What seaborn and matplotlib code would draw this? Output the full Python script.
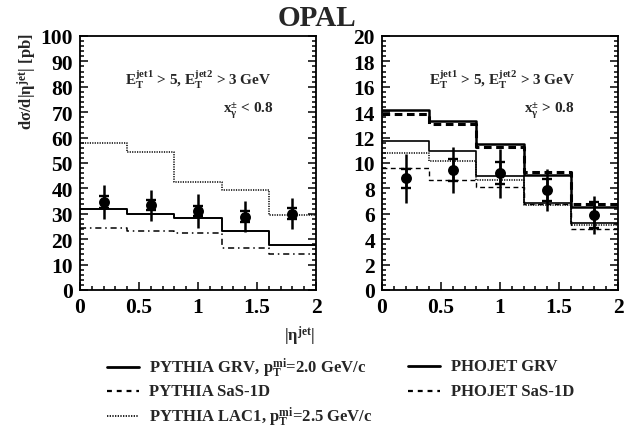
import numpy as np
import pandas as pd
import matplotlib
matplotlib.use("Agg")
import matplotlib.pyplot as plt
from matplotlib.lines import Line2D
from matplotlib.ticker import MultipleLocator, FixedLocator, FixedFormatter
import seaborn as sns

# ---------------- data ----------------
bin_edges = [0.0, 0.4, 0.8, 1.2, 1.6, 2.0]
eta_centers = [0.2, 0.6, 1.0, 1.4, 1.8]

# x_gamma < 0.8
low_data = [34.7, 33.4, 31.1, 28.8, 30.1]
low_stat = [2.3, 2.0, 1.8, 2.2, 2.2]
low_tot = [6.8, 6.1, 6.7, 6.1, 6.2]
low_pythia_grv = [32.0, 29.8, 28.4, 23.3, 17.7]
low_pythia_lac1 = [57.8, 54.4, 42.6, 39.3, 29.6]
low_pythia_sas = [24.3, 23.4, 22.3, 16.7, 14.0]

# x_gamma > 0.8
high_data = [8.81, 9.44, 9.18, 7.86, 5.91]
high_stat = [0.75, 0.85, 0.87, 0.85, 1.0]
high_tot = [1.93, 1.83, 1.95, 1.65, 1.5]
high_phojet_grv = [14.19, 13.27, 11.46, 9.07, 6.57]
high_phojet_sas = [13.85, 13.04, 11.25, 9.30, 6.76]
high_pythia_grv = [11.75, 10.96, 8.94, 6.83, 5.26]
high_pythia_lac1 = [10.75, 10.17, 8.65, 6.68, 5.08]
high_pythia_sas = [9.59, 8.65, 8.10, 6.75, 4.84]

x_tick_vals = [0, 0.5, 1, 1.5, 2]
x_tick_labels = ["0", "0.5", "1", "1.5", "2"]
low_y_ticks = [0, 10, 20, 30, 40, 50, 60, 70, 80, 90, 100]
high_y_ticks = [0, 2, 4, 6, 8, 10, 12, 14, 16, 18, 20]

legend_left = [
    ("PYTHIA GRV, $p_T^{mi}$=2.0 GeV/c", "-", 2.0),
    ("PYTHIA SaS-1D", (0, (2.2, 2.2)), 1.6),
    ("PYTHIA LAC1, $p_T^{mi}$=2.5 GeV/c", (0, (0.8, 0.8)), 1.2),
]
legend_right = [
    ("PHOJET GRV", "-", 2.0),
    ("PHOJET SaS-1D", (0, (2.2, 2.2)), 1.6),
]

# ---------------- style ----------------
sns.set_style("ticks")
plt.rcParams["font.family"] = ["Liberation Serif", "DejaVu Serif"]
plt.rcParams["font.weight"] = "bold"
plt.rcParams["mathtext.fontset"] = "custom"
plt.rcParams["mathtext.rm"] = "Liberation Serif:bold"
plt.rcParams["mathtext.it"] = "Liberation Serif:bold"
plt.rcParams["mathtext.bf"] = "Liberation Serif:bold"
plt.rcParams["mathtext.default"] = "rm"
plt.rcParams["axes.linewidth"] = 1.3

fig = plt.figure(figsize=(6.34, 4.31), dpi=100)
W, H = 634.0, 431.0
axL = fig.add_axes([80 / W, 1 - 291 / H, 236 / W, 254 / H])
axR = fig.add_axes([382 / W, 1 - 291 / H, 236 / W, 254 / H])


def step(ax, vals, ls, lw):
    df = pd.DataFrame({"eta": bin_edges, "val": list(vals) + [vals[-1]]})
    sns.lineplot(data=df, x="eta", y="val", ax=ax, drawstyle="steps-post",
                 estimator=None, sort=False, color="black", linestyle=ls,
                 linewidth=lw)


def points(ax, vals, stat, tot):
    ax.errorbar(eta_centers, vals, yerr=tot, fmt="none", ecolor="black",
                elinewidth=1.8, capsize=0, zorder=4)
    ax.errorbar(eta_centers, vals, yerr=stat, fmt="none", ecolor="black",
                elinewidth=1.8, capsize=3.4, capthick=1.7, zorder=4)
    df = pd.DataFrame({"eta": eta_centers, "val": vals})
    sns.scatterplot(data=df, x="eta", y="val", ax=ax, color="black", s=62,
                    edgecolor="black", linewidth=0, zorder=5)


# left panel
step(axL, low_pythia_lac1, (0, (0.8, 0.8)), 1.1)
step(axL, low_pythia_grv, "-", 1.4)
step(axL, low_pythia_sas, (0, (4, 2.5, 1, 2.5)), 1.1)
points(axL, low_data, low_stat, low_tot)

# right panel
step(axR, high_phojet_grv, "-", 1.8)
step(axR, high_phojet_sas, (0, (2.5, 1.5)), 2.2)
step(axR, high_pythia_grv, "-", 1.2)
step(axR, high_pythia_lac1, (0, (0.8, 0.8)), 1.1)
step(axR, high_pythia_sas, (0, (3.5, 2.5)), 1.0)
points(axR, high_data, high_stat, high_tot)

for ax, yt, ymax, minor in [(axL, low_y_ticks, 100, 2), (axR, high_y_ticks, 20, 0.4)]:
    ax.set_xlim(0, 2)
    ax.set_ylim(0, ymax)
    ax.xaxis.set_major_locator(FixedLocator(x_tick_vals))
    ax.xaxis.set_major_formatter(FixedFormatter(x_tick_labels))
    ax.xaxis.set_minor_locator(MultipleLocator(0.1))
    ax.yaxis.set_major_locator(FixedLocator(yt))
    ax.yaxis.set_major_formatter(FixedFormatter([str(v) for v in yt]))
    ax.yaxis.set_minor_locator(MultipleLocator(minor))
    ax.tick_params(which="both", direction="in", right=True, top=False,
                   width=1.1, labelsize=15.5, colors="black")
    ax.tick_params(which="major", length=6)
    ax.tick_params(which="minor", length=3)
    ax.tick_params(axis="y", pad=5)
    ax.tick_params(axis="x", pad=5)
    for lab in ax.get_xticklabels() + ax.get_yticklabels():
        lab.set_fontweight("bold")
    ax.set_xlabel("")
    ax.set_ylabel("")
    for sp in ax.spines.values():
        sp.set_visible(True)
        sp.set_color("black")
        sp.set_linewidth(1.3)

axL.text(1.0, 83, "$E_T^{jet1}$ > 5, $E_T^{jet2}$ > 3 GeV", ha="center",
         va="center", fontsize=11, fontweight="bold")
axL.text(1.43, 71, "$x_\\gamma^{\\pm}$ < 0.8", ha="center", va="center",
         fontsize=11, fontweight="bold")
axR.text(1.02, 16.6, "$E_T^{jet1}$ > 5, $E_T^{jet2}$ > 3 GeV", ha="center",
         va="center", fontsize=11, fontweight="bold")
axR.text(1.42, 14.2, "$x_\\gamma^{\\pm}$ > 0.8", ha="center", va="center",
         fontsize=11, fontweight="bold")

fig.text(0.5, 1 - 19 / H, "OPAL", ha="center", va="center", fontsize=21,
         fontweight="bold")
fig.text(27 / W, 1 - 82 / H, "dσ/d|η$^{jet}$| [pb]", rotation=90,
         ha="center", va="center", fontsize=12, fontweight="bold")
fig.text(299 / W, 1 - 336 / H, "|η$^{jet}$|", ha="center", va="center",
         fontsize=12, fontweight="bold")


def legend_block(entries, x0, x1, xt, rows):
    for (label, ls, lw), y in zip(entries, rows):
        fig.add_artist(Line2D([x0 / W, x1 / W], [1 - y / H, 1 - y / H],
                              transform=fig.transFigure, color="black",
                              linestyle=ls, linewidth=lw))
        fig.text(xt / W, 1 - y / H, label, ha="left", va="center",
                 fontsize=12, fontweight="bold")


legend_block(legend_left, 107, 139, 149, [368, 392, 417])
legend_block(legend_right, 408, 440, 451, [367, 392])

fig.savefig("out.png", dpi=100)
